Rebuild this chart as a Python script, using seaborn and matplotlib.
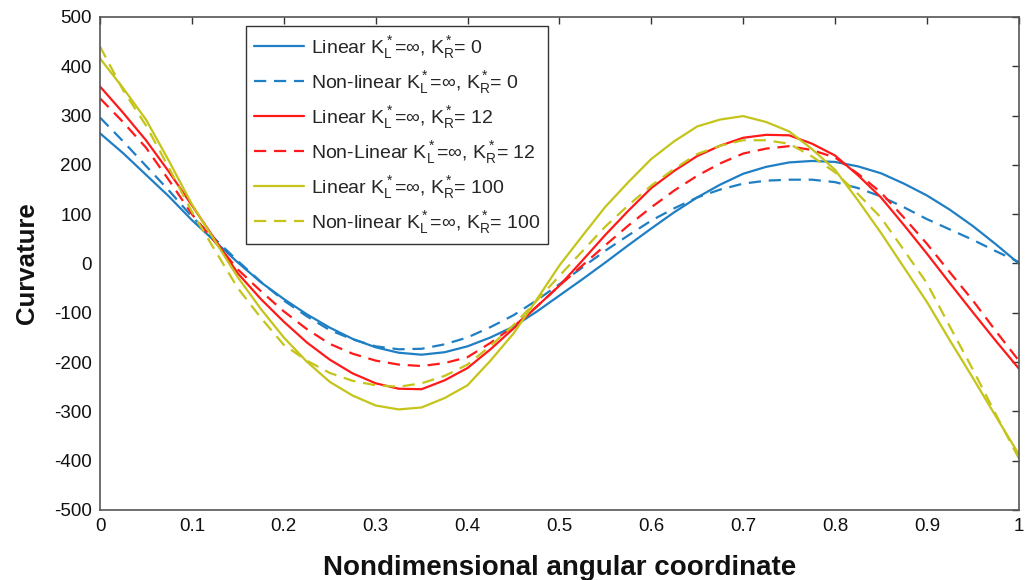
import numpy as np
import pandas as pd
import matplotlib
matplotlib.use("Agg")
import matplotlib.pyplot as plt
import seaborn as sns

# ---- data ----
x_coord = [0.000, 0.025, 0.050, 0.075, 0.100, 0.125, 0.150, 0.175, 0.200, 0.225,
           0.250, 0.275, 0.300, 0.325, 0.350, 0.375, 0.400, 0.425, 0.450, 0.475,
           0.500, 0.525, 0.550, 0.575, 0.600, 0.625, 0.650, 0.675, 0.700, 0.725,
           0.750, 0.775, 0.800, 0.825, 0.850, 0.875, 0.900, 0.925, 0.950, 0.975,
           1.000]

lin_kr0 = [264, 224, 180, 136, 88, 45, 2, -38, -72, -103,
           -130, -153, -170, -181, -185, -180, -168, -150, -128, -98,
           -65, -32, 2, 37, 71, 104, 134, 160, 182, 196,
           205, 208, 206, 197, 183, 162, 138, 109, 76, 39,
           0]
nonlin_kr0 = [296, 248, 198, 148, 95, 50, 5, -37, -75, -107,
              -135, -154, -168, -174, -173, -164, -150, -129, -105, -75,
              -42, -8, 26, 57, 87, 112, 134, 150, 162, 168,
              170, 170, 165, 153, 136, 114, 90, 69, 48, 25,
              3]
lin_kr12 = [359, 306, 250, 186, 118, 49, -20, -72, -118, -160,
            -195, -223, -243, -254, -255, -237, -212, -174, -132, -88,
            -45, 6, 58, 107, 153, 188, 218, 239, 255, 261,
            260, 243, 219, 179, 134, 78, 20, -40, -99, -157,
            -213]
nonlin_kr12 = [335, 287, 235, 169, 100, 44, -12, -56, -97, -133,
               -163, -183, -197, -205, -208, -202, -190, -161, -128, -88,
               -45, -4, 37, 77, 114, 148, 178, 203, 223, 233,
               238, 230, 215, 182, 144, 93, 40, -18, -75, -137,
               -197]
lin_kr100 = [416, 356, 292, 208, 120, 46, -28, -92, -150, -199,
             -240, -268, -288, -296, -292, -273, -247, -197, -142, -74,
             -4, 56, 115, 165, 212, 248, 278, 292, 299, 287,
             268, 232, 190, 128, 62, -8, -78, -156, -232, -310,
             -387]
nonlin_kr100 = [440, 352, 280, 194, 105, 27, -50, -110, -165, -197,
                -222, -238, -247, -250, -243, -228, -205, -167, -125, -76,
                -25, 25, 75, 118, 158, 192, 222, 239, 250, 250,
                243, 217, 185, 141, 93, 27, -40, -128, -215, -306,
                -395]

labels = [
    r"Linear K$_L^*$=$\infty$, K$_R^*$= 0",
    r"Non-linear K$_L^*$=$\infty$, K$_R^*$= 0",
    r"Linear K$_L^*$=$\infty$, K$_R^*$= 12",
    r"Non-Linear K$_L^*$=$\infty$, K$_R^*$= 12",
    r"Linear K$_L^*$=$\infty$, K$_R^*$= 100",
    r"Non-linear K$_L^*$=$\infty$, K$_R^*$= 100",
]
series = [lin_kr0, nonlin_kr0, lin_kr12, nonlin_kr12, lin_kr100, nonlin_kr100]
colors = ["#1f7fc4", "#1f7fc4", "#ff1a1a", "#ff1a1a", "#c4c41a", "#c4c41a"]
dashed = [False, True, False, True, False, True]

xticks = [0, 0.1, 0.2, 0.3, 0.4, 0.5, 0.6, 0.7, 0.8, 0.9, 1]
xticklabels = ["0", "0.1", "0.2", "0.3", "0.4", "0.5", "0.6", "0.7", "0.8", "0.9", "1"]
yticks = [-500, -400, -300, -200, -100, 0, 100, 200, 300, 400, 500]

# ---- styling ----
sns.set_theme(style="white")
plt.rcParams["font.family"] = ["Liberation Sans", "DejaVu Sans"]
plt.rcParams["mathtext.fontset"] = "custom"
plt.rcParams["mathtext.rm"] = "Liberation Sans"
plt.rcParams["mathtext.it"] = "Liberation Sans"
plt.rcParams["mathtext.bf"] = "Liberation Sans:bold"
plt.rcParams["axes.unicode_minus"] = False

fig = plt.figure(figsize=(10.27, 5.8), dpi=100)
ax = fig.add_axes([0.0974, 0.1207, 0.8946, 0.8500])

for ys, lab, col, d in zip(series, labels, colors, dashed):
    df = pd.DataFrame({"x": x_coord, "y": ys})
    sns.lineplot(data=df, x="x", y="y", ax=ax, color=col, lw=1.6,
                 label=lab, sort=False)
    l = ax.get_lines()[-1]
    if d:
        l.set_dashes((5.5, 3.5))

ax.set_xlim(0, 1)
ax.set_ylim(-500, 500)
ax.set_xticks(xticks)
ax.set_xticklabels(xticklabels)
ax.set_yticks(yticks)
ax.tick_params(direction="in", top=True, right=True, length=5, width=1,
               color="#333333", labelsize=13.5, labelcolor="#111111", pad=6)
for sp in ax.spines.values():
    sp.set_color("#555555")
    sp.set_linewidth(1.2)

ax.set_xlabel("Nondimensional angular coordinate", fontsize=20, fontweight="bold",
              color="#111111", labelpad=14)
ax.set_ylabel("Curvature", fontsize=18.5, fontweight="bold", color="#111111", labelpad=11)

leg = ax.legend(loc="upper left", bbox_to_anchor=(0.159, 0.982), borderaxespad=0,
                fontsize=14, frameon=True, fancybox=False, framealpha=1,
                edgecolor="#333333", handlelength=2.6, labelspacing=0.42,
                handletextpad=0.35, borderpad=0.4)
leg.get_frame().set_linewidth(1.0)

fig.savefig("out.png", dpi=100)
